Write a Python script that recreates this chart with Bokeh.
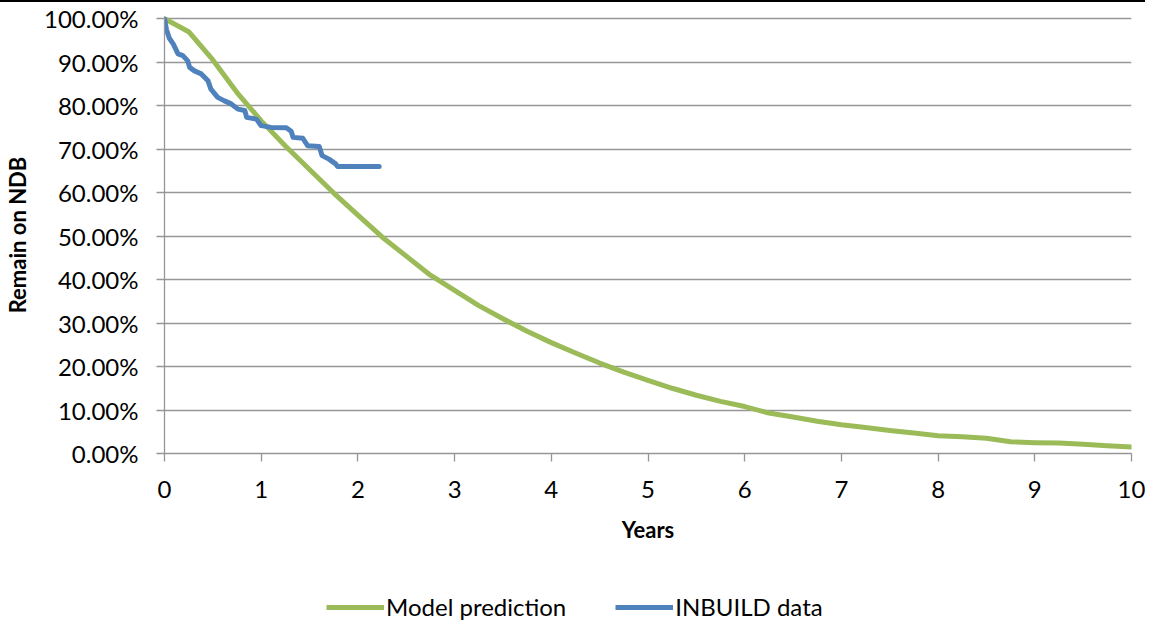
from bokeh.plotting import figure
from bokeh.models import Range1d, FixedTicker, NumeralTickFormatter, Legend, LegendItem, Div
from bokeh.layouts import column
from bokeh.embed import file_html
from bokeh.resources import INLINE

# ---- data ----
model_years = [0, 0.25, 0.5, 0.75, 1, 1.25, 1.5, 1.75, 2, 2.25, 2.5, 2.75, 3, 3.25, 3.5,
               3.75, 4, 4.25, 4.5, 4.75, 5, 5.25, 5.5, 5.75, 6, 6.25, 6.5, 6.75, 7, 7.25,
               7.5, 7.75, 8, 8.25, 8.5, 8.75, 9, 9.25, 9.5, 9.75, 10]
model_pct = [100, 97, 90.5, 83, 76.5, 70.7, 65.3, 59.9, 54.8, 49.8, 45.4, 41.0, 37.5, 34.0, 31.0,
             28.1, 25.5, 23.1, 20.8, 18.7, 16.8, 15.0, 13.4, 12.0, 10.8, 9.3, 8.4, 7.4, 6.6, 6.0,
             5.3, 4.7, 4.1, 3.85, 3.5, 2.7, 2.5, 2.4, 2.1, 1.8, 1.5]

inbuild_years = [0, 0.02, 0.05, 0.09, 0.14, 0.19, 0.24, 0.26, 0.31, 0.38, 0.45, 0.48, 0.55,
                 0.62, 0.69, 0.76, 0.83, 0.85, 0.95, 1.0, 1.10, 1.26, 1.31, 1.33, 1.43, 1.48,
                 1.60, 1.63, 1.70, 1.77, 1.79, 2.22]
inbuild_pct = [100, 97.5, 95.5, 94.2, 91.9, 91.5, 90.3, 88.8, 88.0, 87.3, 85.7, 83.8, 81.9,
               81.1, 80.4, 79.2, 78.9, 77.3, 76.9, 75.4, 75.0, 74.9, 74.1, 72.7, 72.5, 70.8,
               70.6, 68.5, 67.7, 66.6, 66.0, 66.0]

x_ticks = [0, 1, 2, 3, 4, 5, 6, 7, 8, 9, 10]
y_ticks = [0.0, 0.1, 0.2, 0.3, 0.4, 0.5, 0.6, 0.7, 0.8, 0.9, 1.0]
series_names = ["Model prediction", "INBUILD data"]
x_title = "Years"
y_title = "Remain on NDB"

FONT = "Lato"
GREEN = "#9BBB59"
BLUE = "#4F81BD"
GRID = "#969696"
W = 1145

p = figure(width=W, height=558, output_backend="svg", toolbar_location=None,
           x_range=Range1d(0, 10), y_range=Range1d(0, 1.005),
           min_border_left=163, min_border_right=14, min_border_top=14, min_border_bottom=107)
p.outline_line_color = None
p.background_fill_color = "white"
p.border_fill_color = "white"

p.xgrid.visible = False
p.ygrid.grid_line_color = GRID
p.ygrid.grid_line_width = 1.3
p.ygrid.ticker = FixedTicker(ticks=y_ticks)

for ax in (p.xaxis[0], p.yaxis[0]):
    ax.axis_line_color = GRID
    ax.axis_line_width = 1.3
    ax.major_tick_line_color = GRID
    ax.major_tick_line_width = 1.3
    ax.major_tick_out = 8
    ax.major_tick_in = 0
    ax.minor_tick_line_color = None
    ax.major_label_text_font = FONT
    ax.major_label_text_font_size = "24px"
    ax.major_label_text_color = "black"
    ax.axis_label_text_font = FONT
    ax.axis_label_text_font_size = "22px"
    ax.axis_label_text_font_style = "bold"
    ax.axis_label_text_color = "black"

p.xaxis.ticker = FixedTicker(ticks=x_ticks)
p.xaxis.major_label_standoff = 19
p.xaxis.axis_label = x_title
p.xaxis.axis_label_standoff = 15

p.yaxis.ticker = FixedTicker(ticks=y_ticks)
p.yaxis.formatter = NumeralTickFormatter(format="0.00%")
p.yaxis.major_label_standoff = 18
p.yaxis.axis_label = y_title
p.yaxis.axis_label_standoff = 10

line_style = dict(line_width=5, line_join="round", line_cap="round")
p.line(model_years, [v / 100 for v in model_pct], line_color=GREEN, **line_style)
p.line(inbuild_years, [v / 100 for v in inbuild_pct], line_color=BLUE, **line_style)

# legend strip below the chart (its own copies of the series lie outside its view range;
# the column aligns this strip's frame with the chart's frame, which starts at x=163)
lf = figure(width=W, height=61, output_backend="svg", toolbar_location=None,
            x_range=Range1d(100, 101), y_range=Range1d(100, 101),
            x_axis_location=None, y_axis_location=None,
            min_border_left=0, min_border_right=0, min_border_top=0, min_border_bottom=0)
lf.grid.visible = False
lf.outline_line_color = None
lg = lf.line(model_years, model_pct, line_color=GREEN, line_width=5)
lb = lf.line(inbuild_years, inbuild_pct, line_color=BLUE, line_width=5)
legend = Legend(items=[LegendItem(label=series_names[0], renderers=[lg]),
                       LegendItem(label=series_names[1], renderers=[lb])],
                orientation="horizontal", location=(162, 0),
                glyph_width=58, glyph_height=24, label_standoff=2, spacing=49,
                padding=0, margin=0, border_line_color=None, background_fill_alpha=0,
                label_text_font=FONT, label_text_font_size="24px", label_text_color="black")
lf.add_layout(legend)

top_line = Div(text="", width=W, height=2, margin=0, styles={"background-color": "black"})
layout = column(top_line, p, lf, spacing=0)

open("out.html", "w").write(file_html(layout, INLINE))
